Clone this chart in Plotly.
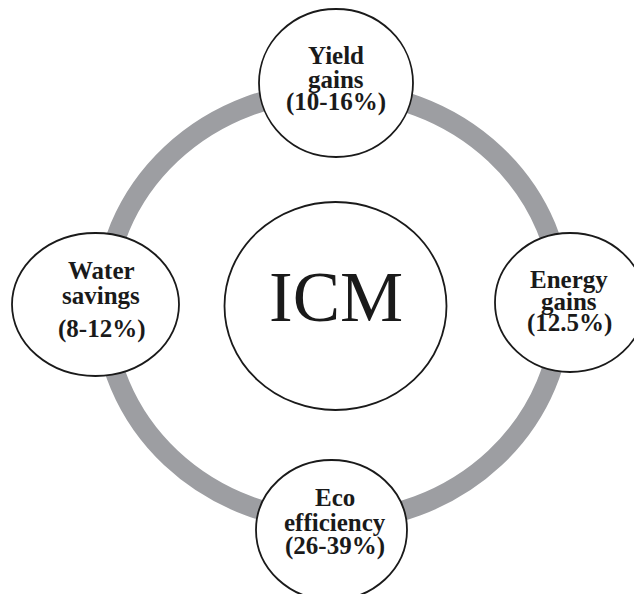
import plotly.graph_objects as go

# ---- content ----
center_label = "ICM"
benefit_names = ["Yield", "Energy", "Eco", "Water"]
benefit_words = ["gains", "gains", "efficiency", "savings"]
benefit_ranges = ["(10-16%)", "(12.5%)", "(26-39%)", "(8-12%)"]

# ---- geometry (pixel space of the 642x594 canvas) ----
W, H = 642, 594
ring = dict(cx=325, cy=298, rx=229, ry=215, width=20, color="#9d9ea2")
hub = dict(cx=327.5, cy=298, rx=111, ry=104)
node_geom = [  # cx, cy, rx, ry
    (328, 75, 77, 74),
    (562, 294.5, 75, 69.5),
    (323.5, 522, 75.5, 70),
    (87.5, 296.5, 83.5, 71.5),
]
text_x = [328, 561, 327, 93]
line_baselines = [(61, 85, 108), (285, 307, 329), (503, 528, 552), (276, 301, 335)]

SERIF = "Liberation Serif, Times New Roman, serif"
INK = "#1a1a1a"

fig = go.Figure()
shapes = []
# gray connecting ring
shapes.append(dict(type="circle", xref="x", yref="y",
                   x0=ring["cx"] - ring["rx"], x1=ring["cx"] + ring["rx"],
                   y0=ring["cy"] - ring["ry"], y1=ring["cy"] + ring["ry"],
                   line=dict(color=ring["color"], width=ring["width"]),
                   fillcolor="rgba(0,0,0,0)", layer="above"))
# hub
shapes.append(dict(type="circle", xref="x", yref="y",
                   x0=hub["cx"] - hub["rx"], x1=hub["cx"] + hub["rx"],
                   y0=hub["cy"] - hub["ry"], y1=hub["cy"] + hub["ry"],
                   line=dict(color=INK, width=1.8), fillcolor="white", layer="above"))
for cx, cy, rx, ry in node_geom:
    shapes.append(dict(type="circle", xref="x", yref="y",
                       x0=cx - rx, x1=cx + rx, y0=cy - ry, y1=cy + ry,
                       line=dict(color=INK, width=1.8), fillcolor="white", layer="above"))

annotations = [dict(x=hub["cx"], y=hub["cy"] - 9, text=center_label, showarrow=False,
                    xanchor="center", yanchor="middle",
                    font=dict(family=SERIF, size=71, color=INK))]
for i in range(len(benefit_names)):
    lines = [benefit_names[i], benefit_words[i], benefit_ranges[i]]
    for txt, base in zip(lines, line_baselines[i]):
        annotations.append(dict(x=text_x[i], y=base - 14, text=txt, showarrow=False,
                                xanchor="center", yanchor="middle",
                                font=dict(family=SERIF, size=25, color=INK, weight="bold")))

fig.update_layout(
    width=W, height=H, autosize=False,
    margin=dict(l=0, r=0, t=0, b=0),
    paper_bgcolor="white", plot_bgcolor="white",
    xaxis=dict(range=[0, W], visible=False, fixedrange=True),
    yaxis=dict(range=[H, 0], visible=False, fixedrange=True),
    shapes=shapes, annotations=annotations, showlegend=False,
)
fig.write_html("out.html")
